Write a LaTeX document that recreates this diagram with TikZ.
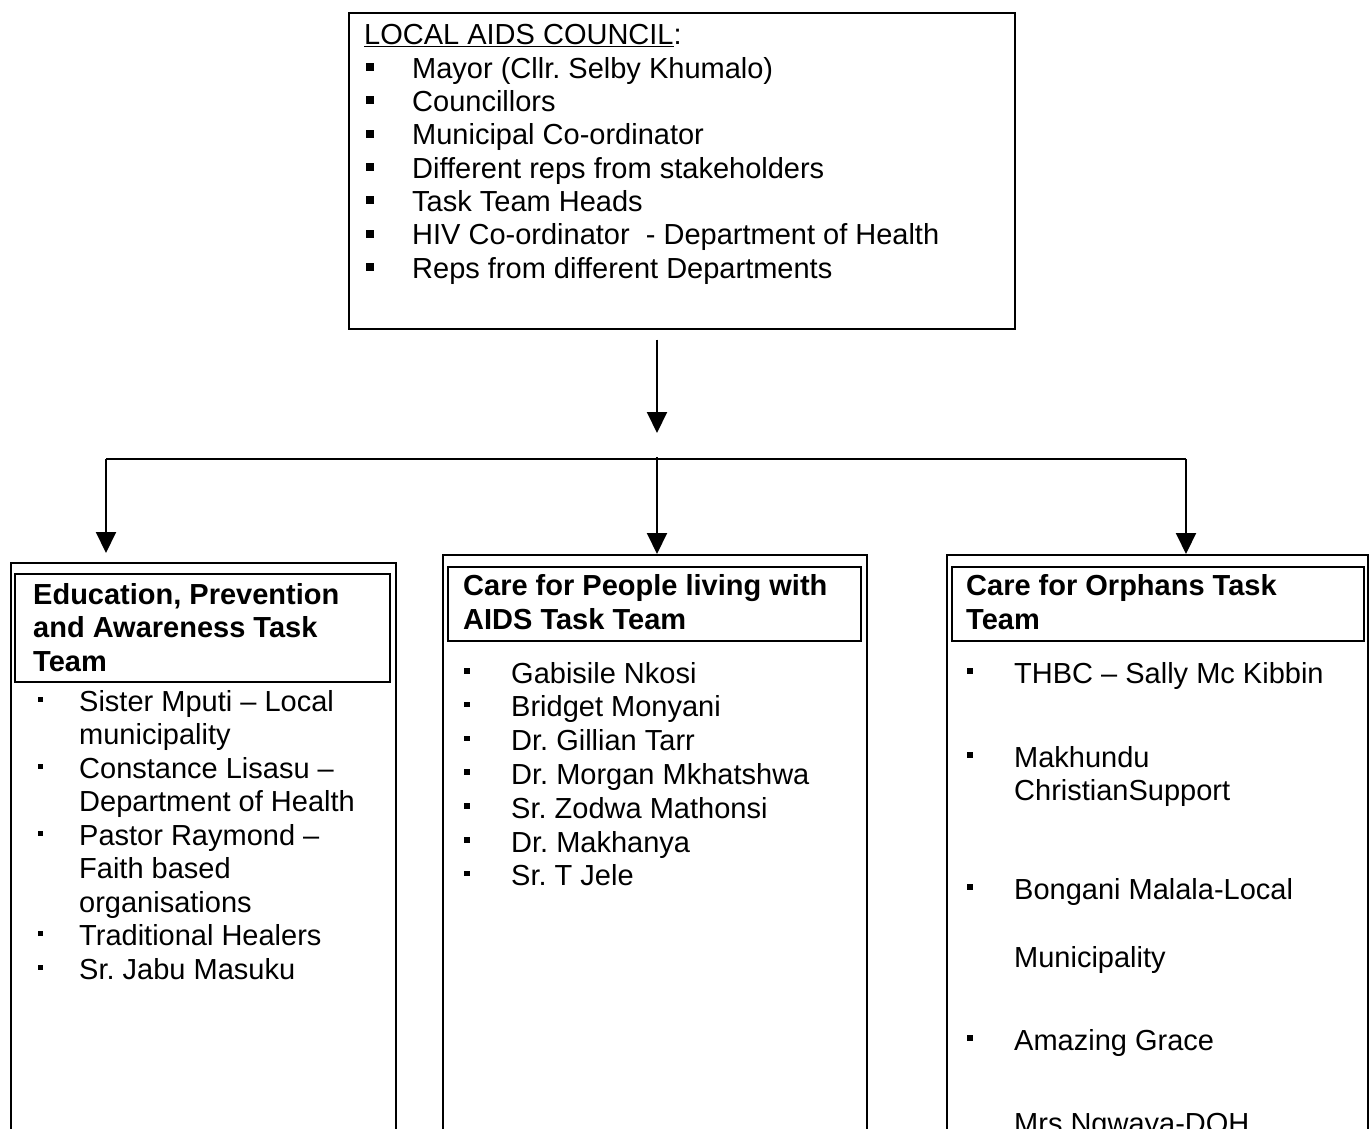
\documentclass[tikz,border=0pt]{standalone}
\usepackage{fontspec}
\setmainfont{Liberation Sans}
\usetikzlibrary{arrows.meta}
\frenchspacing
\newcommand\bigbul{\makebox[46pt][l]{\raisebox{7pt}{\rule{8pt}{8pt}}}}
\newcommand\smbulL{\makebox[41pt][l]{\raisebox{9.5pt}{\rule{5pt}{5pt}}}}
\newcommand\smbulM{\makebox[47pt][l]{\raisebox{9.5pt}{\rule{5.5pt}{5.5pt}}}}
\begin{document}
\begin{tikzpicture}[x=1pt,y=-1pt,
  box/.style={draw, line width=1.7pt, anchor=north west, inner sep=0pt},
  hbox/.style={draw, line width=2pt, anchor=north west, inner sep=0pt},
  txt/.style={anchor=base west, inner sep=0pt, font=\fontsize{29}{33}\selectfont},
  htxt/.style={anchor=base west, inner sep=0pt, font=\fontsize{29}{33}\selectfont\bfseries},
  conn/.style={line width=2pt},
  arr/.style={conn, -{Triangle[width=20pt,length=21pt]}}]
\path[use as bounding box] (0,0) rectangle (1371,1128);
\clip (0,0) rectangle (1371,1128);
\fill[white] (0,0) rectangle (1371,1128);

% top box
\node[box, minimum width=666pt, minimum height=316pt] (council) at (348,12) {};
\node[txt] (c0) at (364,44.7) {\underline{LOCAL AIDS COUNCIL}:};
\node[txt] (c1) at (366,78) {\bigbul Mayor (Cllr. Selby Khumalo)};
\node[txt] (c2) at (366,111.4) {\bigbul Councillors};
\node[txt] (c3) at (366,144.7) {\bigbul Municipal Co-ordinator};
\node[txt] (c4) at (366,178) {\bigbul Different reps from stakeholders};
\node[txt] (c5) at (366,211.4) {\bigbul Task Team Heads};
\node[txt] (c6) at (366,244.7) {\bigbul HIV Co-ordinator \ - Department of Health};
\node[txt] (c7) at (366,278) {\bigbul Reps from different Departments};

% task team boxes
\node[box, minimum width=385pt, minimum height=620pt] (edu) at (10,562) {};
\node[box, minimum width=424pt, minimum height=620pt] (care) at (442,554) {};
\node[box, minimum width=421pt, minimum height=620pt] (orph) at (946,554) {};

\node[hbox, minimum width=375pt, minimum height=108pt] (eduh) at (14,573) {};
\node[hbox, minimum width=413pt, minimum height=74pt] (careh) at (447,566) {};
\node[hbox, minimum width=412pt, minimum height=74pt] (orphh) at (951,566) {};

% connectors
\coordinate (arrend) at (657,433);
\coordinate (hl) at (106,459);
\coordinate (hm) at (657,459);
\coordinate (hr) at (1186,459);
\draw[arr] ([yshift=-10pt]arrend |- council.south) -- (arrend);
\draw[conn] (hl) -- (hr);
\draw[arr] ([yshift=2pt]hm) -- (hm |- care.north);
\draw[arr] (hl) -- ([yshift=9pt]hl |- edu.north);
\draw[arr] (hr) -- (hr |- orph.north);

% left box text
\node[htxt] (e0) at (33,604) {Education, Prevention};
\node[htxt] (e1) at (33,637.5) {and Awareness Task};
\node[htxt] (e2) at (33,671) {Team};
\node[txt] (e3) at (38,711) {\smbulL Sister Mputi -- Local};
\node[txt] (e4) at (79,744.5) {municipality};
\node[txt] (e5) at (38,778) {\smbulL Constance Lisasu --};
\node[txt] (e6) at (79,811.5) {Department of Health};
\node[txt] (e7) at (38,845) {\smbulL Pastor Raymond --};
\node[txt] (e8) at (79,878.5) {Faith based};
\node[txt] (e9) at (79,912) {organisations};
\node[txt] (e10) at (38,945.5) {\smbulL Traditional Healers};
\node[txt] (e11) at (38,979) {\smbulL Sr. Jabu Masuku};

% middle box text
\node[htxt] (p0) at (463,595) {Care for People living with};
\node[htxt] (p1) at (463,629) {AIDS Task Team};
\node[txt] (p2) at (464,683) {\smbulM Gabisile Nkosi};
\node[txt] (p3) at (464,716.8) {\smbulM Bridget Monyani};
\node[txt] (p4) at (464,750.6) {\smbulM Dr. Gillian Tarr};
\node[txt] (p5) at (464,784.4) {\smbulM Dr. Morgan Mkhatshwa};
\node[txt] (p6) at (464,818.2) {\smbulM Sr. Zodwa Mathonsi};
\node[txt] (p7) at (464,852) {\smbulM Dr. Makhanya};
\node[txt] (p8) at (464,885.8) {\smbulM Sr. T Jele};

% right box text
\node[htxt] (o0) at (966,595) {Care for Orphans Task};
\node[htxt] (o1) at (966,629) {Team};
\node[txt] (o2) at (967,683) {\smbulM THBC -- Sally Mc Kibbin};
\node[txt] (o3) at (967,767) {\smbulM Makhundu};
\node[txt] (o4) at (1014,800) {ChristianSupport};
\node[txt] (o5) at (967,899) {\smbulM Bongani Malala-Local};
\node[txt] (o6) at (1014,967) {Municipality};
\node[txt] (o7) at (967,1050) {\smbulM Amazing Grace};
\node[txt] (o8) at (1014,1133) {Mrs Ngwaya-DOH};
\end{tikzpicture}
\end{document}
